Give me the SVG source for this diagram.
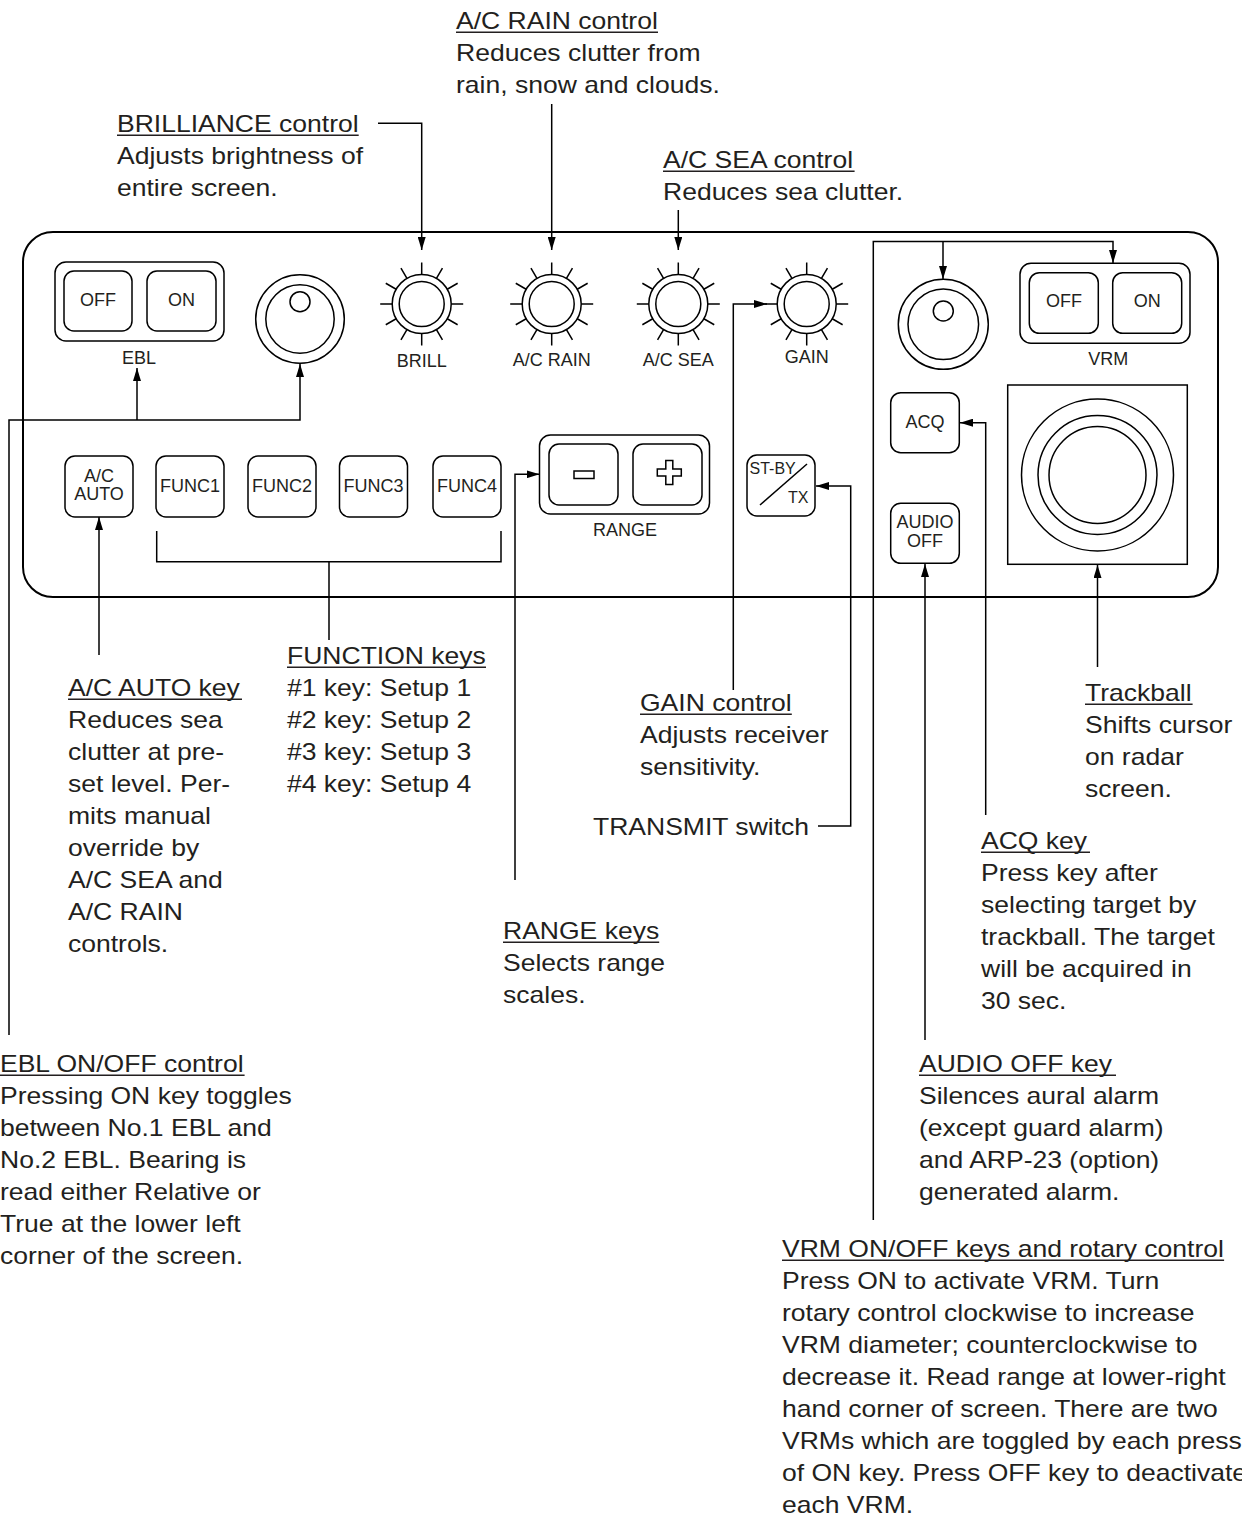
<svg xmlns="http://www.w3.org/2000/svg" xmlns:xlink="http://www.w3.org/1999/xlink" width="1242" height="1519" viewBox="0 0 1242 1519">
<style>
.ln{fill:none;stroke:#000;stroke-width:1.5}
.pn{fill:none;stroke:#000;stroke-width:2}
.bt{fill:#fff;stroke:#000;stroke-width:1.5}
.lb{font-family:"Liberation Sans",Arial,Helvetica,sans-serif;font-size:18px;fill:#231f20;text-anchor:middle}
.sm{font-family:"Liberation Sans",Arial,Helvetica,sans-serif;font-size:16px;fill:#231f20}
.an{font-family:"Liberation Sans",Arial,Helvetica,sans-serif;font-size:24px;fill:#231f20}
.ul{stroke:#231f20;stroke-width:1.5}
</style>
<defs>
<marker id="ah" viewBox="0 0 13 8" refX="13" refY="4" markerWidth="13" markerHeight="8" markerUnits="userSpaceOnUse" orient="auto">
<path d="M0,0 L13,4 L0,8 Z" fill="#000"/>
</marker>
<g id="sun">
<circle r="29.5" class="bt"/>
<circle r="22.5" class="ln"/>
<path class="ln" d="M29.5 0H41.5M-29.5 0H-41.5M0 29.5V41.5M0 -29.5V-41.5M25.55 14.75L35.94 20.75M-25.55 14.75L-35.94 20.75M25.55 -14.75L35.94 -20.75M-25.55 -14.75L-35.94 -20.75M14.75 25.55L20.75 35.94M-14.75 25.55L-20.75 35.94M14.75 -25.55L20.75 -35.94M-14.75 -25.55L-20.75 -35.94"/>
</g>
</defs>
<rect width="1242" height="1519" fill="#fff"/>

<g id="panel">
<rect x="23" y="232" width="1195" height="365" rx="30" class="pn"/>
</g>

<g id="connectors">
<path class="ln" d="M378 123.3H421.7V250" marker-end="url(#ah)"/>
<path class="ln" d="M551.7 104V250" marker-end="url(#ah)"/>
<path class="ln" d="M678.3 210V250" marker-end="url(#ah)"/>
<path class="ln" d="M733.3 690V304H767" marker-end="url(#ah)"/>
<path class="ln" d="M818 826H850.7V486H816" marker-end="url(#ah)"/>
<path class="ln" d="M515 880V474.3H539.5" marker-end="url(#ah)"/>
<path class="ln" d="M156.7 531V561.7H501V531M329 561.7V640"/>
<path class="ln" d="M99 655V517" marker-end="url(#ah)"/>
<path class="ln" d="M9 1035V420H300V364" marker-end="url(#ah)"/>
<path class="ln" d="M137 420V368" marker-end="url(#ah)"/>
<path class="ln" d="M873.3 1220V241.5H1113V263" marker-end="url(#ah)"/>
<path class="ln" d="M943 241.5V279" marker-end="url(#ah)"/>
<path class="ln" d="M985.7 815V422.7H960" marker-end="url(#ah)"/>
<path class="ln" d="M925 1040V564" marker-end="url(#ah)"/>
<path class="ln" d="M1097.5 667V565" marker-end="url(#ah)"/>
</g>

<g id="ebl-keys">
<rect x="55" y="262" width="169" height="79" rx="11" class="bt"/>
<rect x="64" y="271" width="68" height="60" rx="10" class="bt"/>
<rect x="147" y="271" width="69" height="60" rx="10" class="bt"/>
<text x="98" y="305.5" class="lb">OFF</text>
<text x="181.5" y="305.5" class="lb">ON</text>
<text x="139" y="364" class="lb">EBL</text>
</g>

<g id="ebl-knob">
<circle cx="300" cy="319" r="44.3" class="bt"/>
<circle cx="300" cy="319" r="34.2" class="ln"/>
<circle cx="300" cy="301.7" r="10" class="ln"/>
</g>

<g id="brill">
<use xlink:href="#sun" href="#sun" x="421.7" y="304"/>
<text x="421.7" y="367" class="lb">BRILL</text>
</g>
<g id="acrain">
<use xlink:href="#sun" href="#sun" x="551.7" y="304"/>
<text x="551.7" y="366" class="lb">A/C RAIN</text>
</g>
<g id="acsea">
<use xlink:href="#sun" href="#sun" x="678.3" y="304"/>
<text x="678.3" y="366" class="lb">A/C SEA</text>
</g>
<g id="gain">
<use xlink:href="#sun" href="#sun" x="806.7" y="304"/>
<text x="806.7" y="363" class="lb">GAIN</text>
</g>

<g id="acauto">
<rect x="65" y="456" width="68" height="61" rx="10" class="bt"/>
<text x="99" y="481.5" class="lb">A/C</text>
<text x="99" y="499.5" class="lb">AUTO</text>
</g>
<g id="func1">
<rect x="156" y="456" width="68" height="61" rx="10" class="bt"/>
<text x="190" y="491.5" class="lb">FUNC1</text>
</g>
<g id="func2">
<rect x="248" y="456" width="68" height="61" rx="10" class="bt"/>
<text x="282" y="491.5" class="lb">FUNC2</text>
</g>
<g id="func3">
<rect x="339.5" y="456" width="68" height="61" rx="10" class="bt"/>
<text x="373.5" y="491.5" class="lb">FUNC3</text>
</g>
<g id="func4">
<rect x="433" y="456" width="68" height="61" rx="10" class="bt"/>
<text x="467" y="491.5" class="lb">FUNC4</text>
</g>

<g id="range">
<rect x="539.5" y="435" width="170" height="79" rx="11" class="bt"/>
<rect x="549" y="444" width="69" height="61" rx="10" class="bt"/>
<rect x="633" y="444" width="69" height="61" rx="10" class="bt"/>
<rect x="574" y="471" width="20" height="7.5" class="ln"/>
<polygon class="ln" points="665.8,460.5 672.8,460.5 672.8,469 681.3,469 681.3,476 672.8,476 672.8,484.5 665.8,484.5 665.8,476 657.3,476 657.3,469 665.8,469"/>
<text x="625" y="536" class="lb">RANGE</text>
</g>

<g id="stby">
<rect x="747" y="455" width="68" height="61" rx="10" class="bt"/>
<line x1="760" y1="505" x2="807" y2="464" class="ln"/>
<text x="749.5" y="474" class="sm">ST-BY</text>
<text x="788" y="502.5" class="sm">TX</text>
</g>

<g id="vrm-knob">
<circle cx="943.3" cy="324.3" r="45" class="bt"/>
<circle cx="943.3" cy="324.3" r="35.3" class="ln"/>
<circle cx="943.3" cy="311" r="10" class="ln"/>
</g>

<g id="vrm-keys">
<rect x="1020" y="263.3" width="170" height="80" rx="11" class="bt"/>
<rect x="1029.3" y="272.7" width="69" height="60.6" rx="10" class="bt"/>
<rect x="1112.7" y="272.7" width="69" height="60.6" rx="10" class="bt"/>
<text x="1064" y="306.5" class="lb">OFF</text>
<text x="1147.2" y="306.5" class="lb">ON</text>
<text x="1108.3" y="365" class="lb">VRM</text>
</g>

<g id="acq">
<rect x="890.7" y="392.7" width="68.6" height="60" rx="10" class="bt"/>
<text x="925" y="427.5" class="lb">ACQ</text>
</g>
<g id="audio-off">
<rect x="890.7" y="503.3" width="68.6" height="60" rx="10" class="bt"/>
<text x="925" y="528" class="lb">AUDIO</text>
<text x="925" y="547" class="lb">OFF</text>
</g>

<g id="trackball">
<rect x="1007.7" y="385" width="179.6" height="179.3" class="bt"/>
<circle cx="1097.5" cy="475" r="76" class="ln"/>
<circle cx="1097.5" cy="475" r="59.5" class="ln"/>
<circle cx="1097.5" cy="475" r="48.5" class="ln"/>
</g>

<g id="note-acrain">
<text class="an" transform="translate(456 29) scale(1.105 1)"><tspan x="0" y="0">A/C RAIN control</tspan><tspan x="0" y="32">Reduces clutter from</tspan><tspan x="0" y="64">rain, snow and clouds.</tspan></text>
<line x1="456" y1="32.3" x2="658" y2="32.3" class="ul"/>
</g>
<g id="note-brill">
<text class="an" transform="translate(117 132) scale(1.105 1)"><tspan x="0" y="0">BRILLIANCE control</tspan><tspan x="0" y="32">Adjusts brightness of</tspan><tspan x="0" y="64">entire screen.</tspan></text>
<line x1="117" y1="135.3" x2="358.7" y2="135.3" class="ul"/>
</g>
<g id="note-acsea">
<text class="an" transform="translate(663 168) scale(1.105 1)"><tspan x="0" y="0">A/C SEA control</tspan><tspan x="0" y="32">Reduces sea clutter.</tspan></text>
<line x1="663" y1="171.3" x2="854.6" y2="171.3" class="ul"/>
</g>
<g id="note-acauto">
<text class="an" transform="translate(68 696) scale(1.105 1)"><tspan x="0" y="0">A/C AUTO key</tspan><tspan x="0" y="32">Reduces sea</tspan><tspan x="0" y="64">clutter at pre-</tspan><tspan x="0" y="96">set level. Per-</tspan><tspan x="0" y="128">mits manual</tspan><tspan x="0" y="160">override by</tspan><tspan x="0" y="192">A/C SEA and</tspan><tspan x="0" y="224">A/C RAIN</tspan><tspan x="0" y="256">controls.</tspan></text>
<line x1="68" y1="699.3" x2="242" y2="699.3" class="ul"/>
</g>
<g id="note-func">
<text class="an" transform="translate(287 664) scale(1.105 1)"><tspan x="0" y="0">FUNCTION keys</tspan><tspan x="0" y="32">#1 key: Setup 1</tspan><tspan x="0" y="64">#2 key: Setup 2</tspan><tspan x="0" y="96">#3 key: Setup 3</tspan><tspan x="0" y="128">#4 key: Setup 4</tspan></text>
<line x1="287" y1="667.3" x2="486" y2="667.3" class="ul"/>
</g>
<g id="note-gain">
<text class="an" transform="translate(640 711) scale(1.105 1)"><tspan x="0" y="0">GAIN control</tspan><tspan x="0" y="32">Adjusts receiver</tspan><tspan x="0" y="64">sensitivity.</tspan></text>
<line x1="640" y1="714.3" x2="791.8" y2="714.3" class="ul"/>
</g>
<g id="note-transmit">
<text class="an" transform="translate(593 835) scale(1.105 1)">TRANSMIT switch</text>
</g>
<g id="note-trackball">
<text class="an" transform="translate(1085 701) scale(1.105 1)"><tspan x="0" y="0">Trackball</tspan><tspan x="0" y="32">Shifts cursor</tspan><tspan x="0" y="64">on radar</tspan><tspan x="0" y="96">screen.</tspan></text>
<line x1="1085" y1="704.3" x2="1192.6" y2="704.3" class="ul"/>
</g>
<g id="note-acq">
<text class="an" transform="translate(981 849) scale(1.105 1)"><tspan x="0" y="0">ACQ key</tspan><tspan x="0" y="32">Press key after</tspan><tspan x="0" y="64">selecting target by</tspan><tspan x="0" y="96">trackball. The target</tspan><tspan x="0" y="128">will be acquired in</tspan><tspan x="0" y="160">30 sec.</tspan></text>
<line x1="981" y1="852.3" x2="1090" y2="852.3" class="ul"/>
</g>
<g id="note-range">
<text class="an" transform="translate(503 939) scale(1.105 1)"><tspan x="0" y="0">RANGE keys</tspan><tspan x="0" y="32">Selects range</tspan><tspan x="0" y="64">scales.</tspan></text>
<line x1="503" y1="942.3" x2="659.2" y2="942.3" class="ul"/>
</g>
<g id="note-ebl">
<text class="an" transform="translate(0 1072) scale(1.105 1)"><tspan x="0" y="0">EBL ON/OFF control</tspan><tspan x="0" y="32">Pressing ON key toggles</tspan><tspan x="0" y="64">between No.1 EBL and</tspan><tspan x="0" y="96">No.2 EBL. Bearing is</tspan><tspan x="0" y="128">read either Relative or</tspan><tspan x="0" y="160">True at the lower left</tspan><tspan x="0" y="192">corner of the screen.</tspan></text>
<line x1="0" y1="1075.3" x2="244.6" y2="1075.3" class="ul"/>
</g>
<g id="note-audio">
<text class="an" transform="translate(919 1072) scale(1.105 1)"><tspan x="0" y="0">AUDIO OFF key</tspan><tspan x="0" y="32">Silences aural alarm</tspan><tspan x="0" y="64">(except guard alarm)</tspan><tspan x="0" y="96">and ARP-23 (option)</tspan><tspan x="0" y="128">generated alarm.</tspan></text>
<line x1="919" y1="1075.3" x2="1116" y2="1075.3" class="ul"/>
</g>
<g id="note-vrm">
<text class="an" transform="translate(782 1257) scale(1.105 1)"><tspan x="0" y="0">VRM ON/OFF keys and rotary control</tspan><tspan x="0" y="32">Press ON to activate VRM. Turn</tspan><tspan x="0" y="64">rotary control clockwise to increase</tspan><tspan x="0" y="96">VRM diameter; counterclockwise to</tspan><tspan x="0" y="128">decrease it. Read range at lower-right</tspan><tspan x="0" y="160">hand corner of screen. There are two</tspan><tspan x="0" y="192">VRMs which are toggled by each press</tspan><tspan x="0" y="224">of ON key. Press OFF key to deactivate</tspan><tspan x="0" y="256">each VRM.</tspan></text>
<line x1="782" y1="1260.3" x2="1224.1" y2="1260.3" class="ul"/>
</g>
</svg>
